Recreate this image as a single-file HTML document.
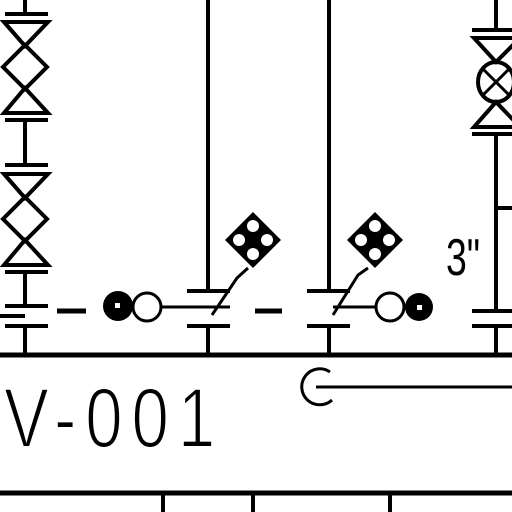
<!DOCTYPE html>
<html><head><style>html,body{margin:0;padding:0;background:#fff}svg{display:block}</style></head>
<body>
<svg width="512" height="512" viewBox="0 0 512 512" xmlns="http://www.w3.org/2000/svg">
<rect width="512" height="512" fill="#fff"/>
<g stroke="#000" stroke-width="4" fill="none">
<g>
<line x1="25" y1="0" x2="25" y2="14"/>
<line x1="5" y1="14" x2="48" y2="14"/>
<path d="M4 22 H48 L25 46 Z M4 113 H48 L25 88 Z"/>
<path d="M25 45 L47 67 L25 89 L3 67 Z"/>
<line x1="5" y1="120" x2="48" y2="120"/>
<line x1="25" y1="120" x2="25" y2="165"/>
<line x1="5" y1="165" x2="48" y2="165"/>
<path d="M4 174 H48 L25 198 Z M4 265 H48 L25 240 Z"/>
<path d="M25 197 L47 219 L25 241 L3 219 Z"/>
<line x1="5" y1="272" x2="48" y2="272"/>
<line x1="25" y1="272" x2="25" y2="306"/>
<line x1="5" y1="306" x2="48" y2="306"/>
<line x1="0" y1="316" x2="25" y2="316"/>
<line x1="5" y1="326" x2="48" y2="326"/>
<line x1="25" y1="326" x2="25" y2="355"/>
</g>
<line x1="57" y1="311" x2="86" y2="311" stroke-width="5"/>
<g>
<line x1="208" y1="0" x2="208" y2="291"/>
<line x1="187" y1="291" x2="230" y2="291"/>
<line x1="187" y1="326" x2="230" y2="326"/>
<line x1="208" y1="326" x2="208" y2="355"/>
<line x1="162" y1="307" x2="230" y2="307" stroke-width="3"/>
<path d="M212 315 L237 278 L248 268" stroke-width="3"/>
</g>
<line x1="255" y1="311" x2="282" y2="311" stroke-width="5"/>
<g>
<line x1="329" y1="0" x2="329" y2="291"/>
<line x1="307" y1="291" x2="350" y2="291"/>
<line x1="307" y1="326" x2="350" y2="326"/>
<line x1="329" y1="326" x2="329" y2="355"/>
<line x1="333" y1="307" x2="376" y2="307" stroke-width="3"/>
<path d="M333 315 L358 275 L368 268" stroke-width="3"/>
</g>
<g>
<line x1="496" y1="0" x2="496" y2="30"/>
<line x1="472" y1="30" x2="512" y2="30"/>
<path d="M474 38 H520 L496 62 Z M474 127 H520 L496 102 Z"/>
<ellipse cx="496" cy="82" rx="18" ry="20"/>
<path d="M482 68 L510 96 M482 96 L510 68" stroke-width="3"/>
<line x1="496" y1="134" x2="496" y2="311"/>
<line x1="472" y1="134" x2="512" y2="134"/>
<line x1="496" y1="208" x2="512" y2="208"/>
<line x1="472" y1="311" x2="512" y2="311"/>
<line x1="472" y1="326" x2="512" y2="326"/>
<line x1="496" y1="326" x2="496" y2="355"/>
</g>
<line x1="0" y1="355" x2="512" y2="355" stroke-width="5"/>
<line x1="0" y1="493" x2="512" y2="493" stroke-width="5"/>
<g>
<line x1="163" y1="493" x2="163" y2="512"/>
<line x1="253" y1="493" x2="253" y2="512"/>
<line x1="390" y1="493" x2="390" y2="512"/>
</g>
<path d="M330 372 A18 18 0 1 0 332 400" stroke-width="3"/>
<line x1="316" y1="387" x2="512" y2="387" stroke-width="3"/>
</g>
<g>
<circle cx="118" cy="306" r="15" fill="#000"/>
<rect x="115" y="303" width="5" height="5" fill="#fff"/>
<circle cx="147" cy="307" r="14" fill="#fff" stroke="#000" stroke-width="3"/>
</g>
<g>
<circle cx="390" cy="307" r="14" fill="#fff" stroke="#000" stroke-width="3"/>
<circle cx="419" cy="307" r="14" fill="#000"/>
<rect x="417" y="305" width="5" height="5" fill="#fff"/>
</g>
<g>
<path d="M253 212 L281 240 L253 268 L225 240 Z" fill="#000"/>
<circle cx="253" cy="226" r="6" fill="#fff"/><circle cx="253" cy="254" r="6" fill="#fff"/>
<circle cx="239" cy="240" r="6" fill="#fff"/><circle cx="267" cy="240" r="6" fill="#fff"/>
</g>
<g>
<path d="M375 212 L403 240 L375 268 L347 240 Z" fill="#000"/>
<circle cx="375" cy="226" r="6" fill="#fff"/><circle cx="375" cy="254" r="6" fill="#fff"/>
<circle cx="361" cy="240" r="6" fill="#fff"/><circle cx="389" cy="240" r="6" fill="#fff"/>
</g>
<text x="446" y="275" font-family="Liberation Sans, sans-serif" font-size="52" transform="translate(446 275) scale(0.72 1) translate(-446 -275)">3"</text>
<text x="4" y="447" font-family="Liberation Sans, sans-serif" font-size="84" textLength="264" lengthAdjust="spacing" transform="translate(4 447) scale(0.8 1) translate(-4 -447)" stroke="#fff" stroke-width="2">V-001</text>
</svg>
</body></html>
